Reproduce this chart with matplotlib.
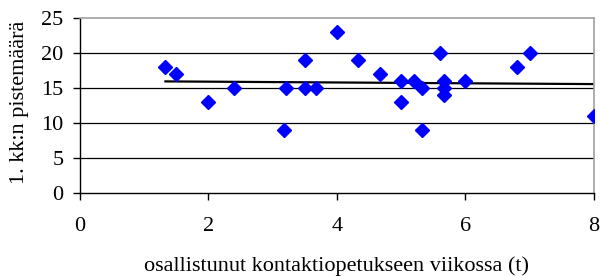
import numpy as np
import matplotlib.pyplot as plt

plt.rcParams['font.family'] = ['Liberation Serif', 'DejaVu Serif']

# hours of contact teaching per week vs. first month score
hours = [1.33, 1.5, 2.0, 2.4, 3.17, 3.2, 3.5, 3.5, 3.67, 4.0, 4.33, 4.67, 5.0, 5.0,
         5.2, 5.33, 5.33, 5.6, 5.67, 5.67, 5.67, 6.0, 6.8, 7.0, 8.0]
points = [18, 17, 13, 15, 9, 15, 19, 15, 15, 23, 19, 17, 16, 13,
          16, 15, 9, 20, 16, 15, 14, 16, 18, 20, 11]

fig = plt.figure(figsize=(6, 2.76), dpi=100)
ax = fig.add_axes([0.1333, 0.3007, 0.8567, 0.634])

ax.set_xlim(0, 8)
ax.set_ylim(0, 25)
ax.set_xticks(range(0, 9, 2))
ax.set_yticks(range(0, 26, 5))

for y in range(5, 25, 5):
    ax.axhline(y, color='black', lw=0.9, zorder=1)

# linear trendline
k, b = np.polyfit(hours, points, 1)
xs = np.array([min(hours), max(hours)])
ax.plot(xs, k * xs + b, color='black', lw=1.6, zorder=2)

ax.plot(hours, points, 'D', color='#0000FF', ms=7.2, mec='#0000FF', zorder=3)

for s in ['top', 'right']:
    ax.spines[s].set_color('#a0a0a0')
    ax.spines[s].set_linewidth(1.2)
for s in ['left', 'bottom']:
    ax.spines[s].set_color('black')
    ax.spines[s].set_linewidth(1.0)

ax.tick_params(direction='out', length=5, width=1, labelsize=16, colors='black')
ax.tick_params(axis='x', pad=12)
ax.tick_params(axis='y', pad=7)
ax.set_xlabel('osallistunut kontaktiopetukseen viikossa (t)', fontsize=16)
ax.xaxis.set_label_coords(0.5, -0.36)
ax.set_ylabel('1. kk:n pistemäärä', fontsize=16)
ax.yaxis.set_label_coords(-0.1, 0.52)

fig.savefig('out.png', dpi=100)
